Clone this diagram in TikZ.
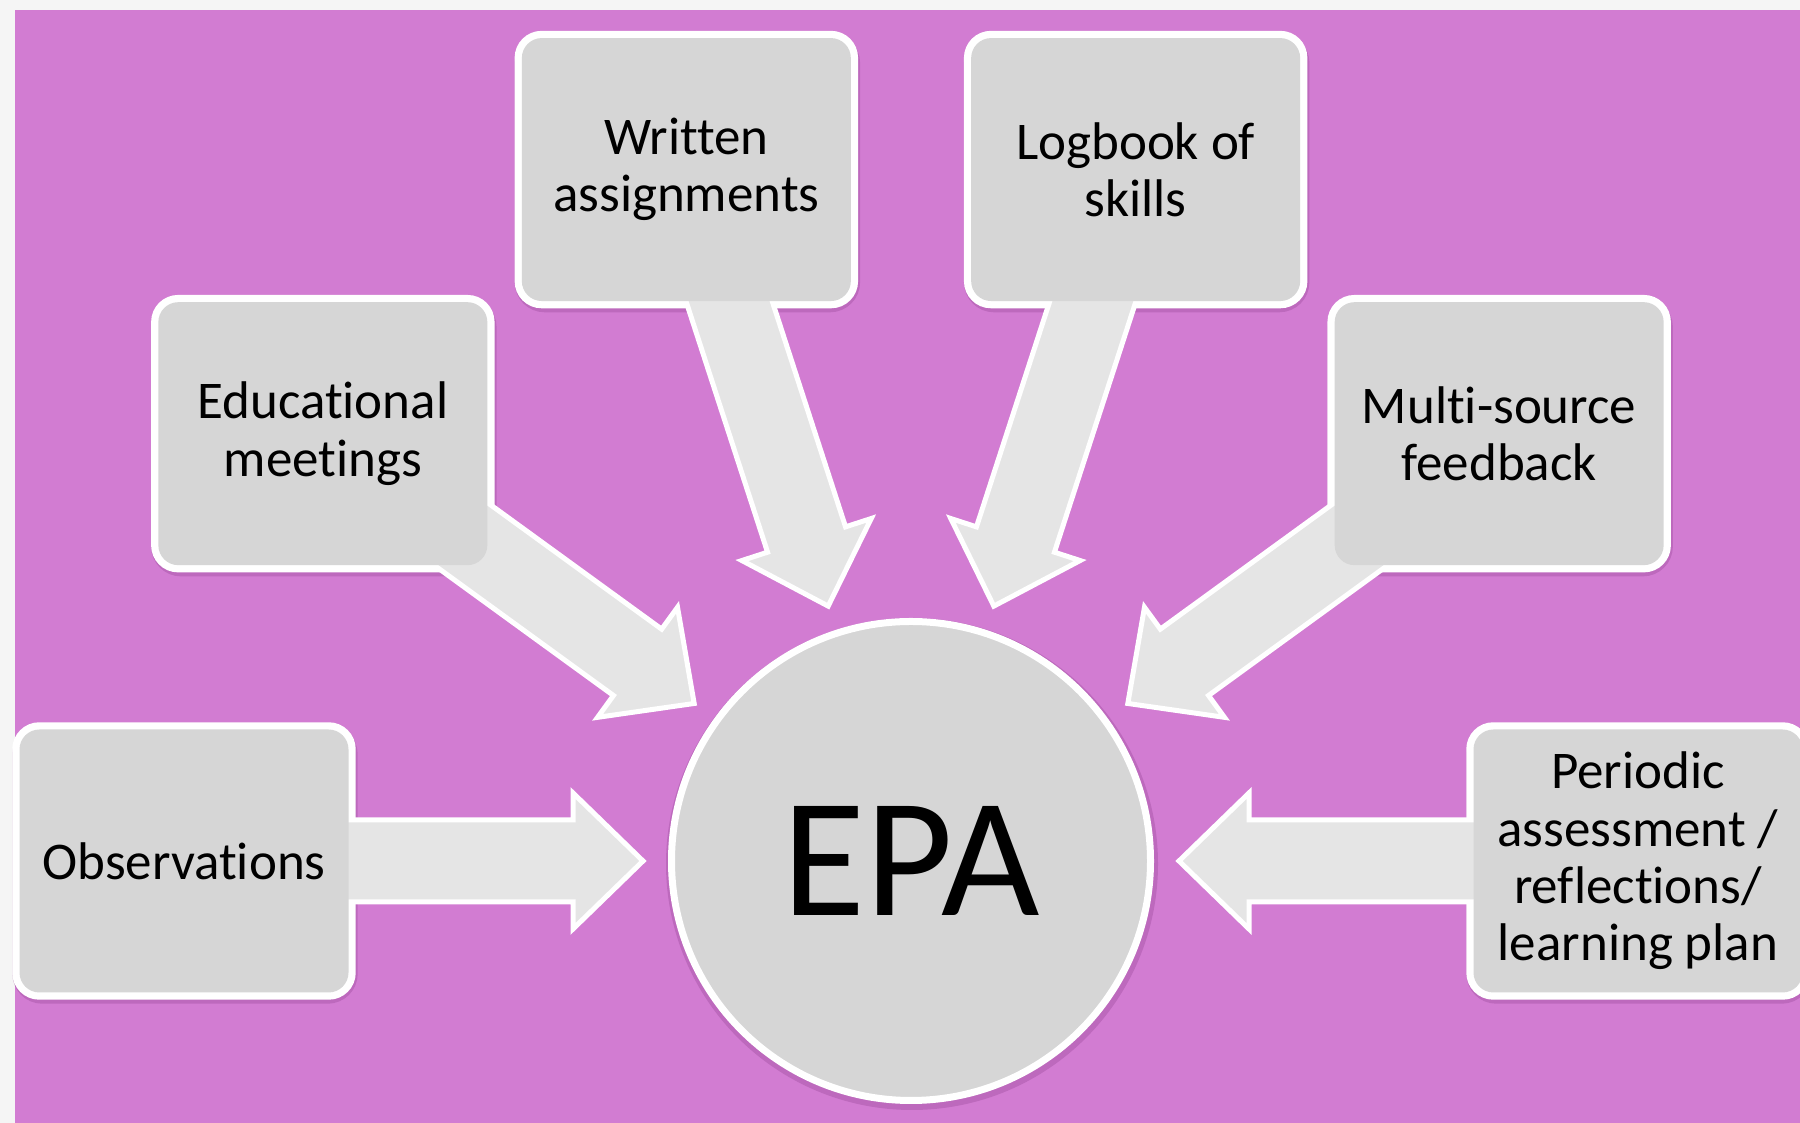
\documentclass[tikz,border=0pt]{standalone}
\usepackage{fontspec}
\setmainfont{Carlito}[Ligatures=NoCommon]
\usepackage{xcolor}
\usepackage{tikz}
\definecolor{pagegrey}{RGB}{245,245,245}
\definecolor{backcolor}{RGB}{210,124,210}
\definecolor{shadecolor}{RGB}{150,70,150}
\definecolor{boxgrey}{RGB}{214,214,214}
\definecolor{arrowgrey}{RGB}{229,229,229}
\pgfdeclarelayer{back}
\pgfdeclarelayer{mid}
\pgfsetlayers{back,mid,main}
\tikzset{
  item/.style={fill=boxgrey, rounded corners=20pt, minimum width=329pt, minimum height=263pt, inner sep=0pt, align=center, font=\fontsize{53}{57.4}\selectfont},
  rim/.style={draw=white, line width=14pt, rounded corners=20pt},
  shade/.style={draw=shadecolor, draw opacity=0.35, line width=16pt, rounded corners=22pt},
  hub/.style={circle, fill=boxgrey, draw=white, line width=7pt, minimum size=479pt, inner sep=0pt, font=\fontsize{170}{170}\selectfont},
  block/.style={fill=arrowgrey, draw=white, line width=5pt, line join=miter},
}

\begin{document}
\begin{tikzpicture}[x=1pt,y=1pt]
\useasboundingbox (0,0) rectangle (1800,1123);
\begin{pgfonlayer}{back}
\fill[pagegrey] (0,0) rectangle (1800,1123);
\fill[backcolor] (15,0) rectangle (1800,1113);
\end{pgfonlayer}

\node[hub] (epa) at (911,262) {EPA};
\node[item] (obs) at ([shift={(180:727)}]epa.center) {Observations};
\node[item] (edu) at ([shift={(144:727)}]epa.center) {Educational\\meetings};
\node[item] (wri) at ([shift={(108:727)}]epa.center) {Written\\assignments};
\node[item] (log) at ([shift={(72:727)}]epa.center) {Logbook of\\skills};
\node[item] (msf) at ([shift={(36:727)}]epa.center) {Multi-source\\feedback};
\node[item] (per) at ([shift={(0:727)}]epa.center) {Periodic\\assessment /\\reflections/\\learning plan};

% white rims sit under the arrows, the box fills sit on top of them
\begin{pgfonlayer}{back}
\foreach \n in {obs,edu,wri,log,msf,per}
  \draw[shade] ([shift={(1,-3)}]\n.south west) rectangle ([shift={(1,-3)}]\n.north east);
\foreach \n in {obs,edu,wri,log,msf,per}
  \draw[rim] (\n.south west) rectangle (\n.north east);
\draw[draw=shadecolor, draw opacity=0.35, line width=8pt] ([shift={(1,-3)}]epa.center) circle (242);
\end{pgfonlayer}

\begin{pgfonlayer}{mid}
\foreach \a in {0,36,...,180}
  \draw[block, shift={(epa.center)}, rotate=\a] (727,41) -- (338,41) -- (338,68) -- (268,0) -- (338,-68) -- (338,-41) -- (727,-41) -- cycle;
\end{pgfonlayer}
\end{tikzpicture}
\end{document}
